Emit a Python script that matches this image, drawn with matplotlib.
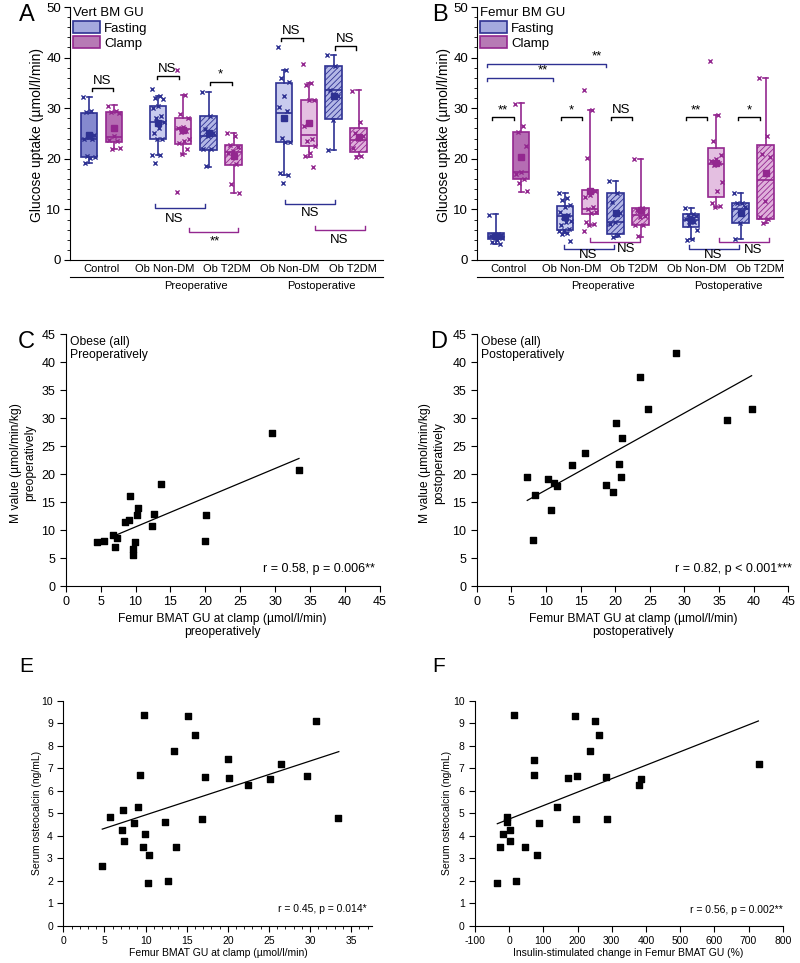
import numpy as np
import matplotlib
matplotlib.use('Agg')
import matplotlib.pyplot as plt
from matplotlib.patches import Patch
from matplotlib.ticker import MultipleLocator

plt.rcParams['font.family'] = ['Liberation Sans', 'DejaVu Sans']
plt.rcParams['hatch.linewidth'] = 0.6
plt.rcParams['axes.unicode_minus'] = False

W, H = 800, 963

# ---------------- data ----------------
groups = ['Control', 'Ob Non-DM', 'Ob T2DM', 'Ob Non-DM', 'Ob T2DM']
periods = ['Preoperative', 'Postoperative']

# box stats per group: (whislo, q1, median, q3, whishi, mean)
vert_fast_box = [(19.2, 20.3, 24.0, 29.0, 32.3, 24.7),
                 (20.8, 24.0, 27.3, 30.4, 32.5, 27.0),
                 (18.4, 21.8, 24.5, 28.4, 33.2, 25.0),
                 (16.8, 23.4, 29.1, 35.0, 37.5, 28.0),
                 (21.7, 27.8, 33.5, 38.3, 40.6, 32.4)]
vert_clamp_box = [(22.0, 23.4, 24.3, 29.3, 30.6, 26.0),
                  (21.0, 23.0, 25.9, 28.1, 32.6, 25.7),
                  (13.2, 18.8, 21.4, 22.7, 25.1, 20.5),
                  (20.4, 22.5, 24.7, 31.7, 34.9, 27.0),
                  (20.5, 21.4, 23.7, 26.0, 33.5, 24.4)]
vert_fast_pts = [[32.3, 29.5, 29.2, 24.8, 24.3, 24.0, 24.0, 20.5, 20.3, 20.2, 19.2],
                 [33.8, 32.5, 32.0, 31.8, 30.5, 30.0, 28.5, 28.0, 27.2, 26.0, 25.0, 24.0, 24.0, 20.8, 20.7, 19.1],
                 [33.2, 28.5, 25.8, 25.0, 24.5, 22.0, 22.0, 18.5],
                 [42.0, 37.5, 36.0, 35.2, 32.5, 30.3, 29.5, 24.2, 23.4, 23.4, 17.2, 16.7, 15.2],
                 [40.6, 38.4, 33.5, 32.4, 27.6, 21.7]]
vert_clamp_pts = [[30.5, 29.5, 29.2, 29.0, 24.5, 23.7, 23.5, 22.0, 22.2],
                  [37.5, 32.6, 28.8, 28.0, 26.2, 26.0, 25.5, 25.3, 24.0, 23.5, 23.2, 22.0, 21.0, 13.4],
                  [25.1, 24.6, 22.7, 22.3, 21.5, 21.2, 19.0, 15.0, 13.2],
                  [38.7, 34.9, 34.5, 31.7, 31.7, 26.5, 24.0, 23.5, 22.5, 21.2, 20.6, 18.4],
                  [33.4, 27.3, 25.0, 24.5, 24.0, 22.2, 20.6, 20.3]]

fem_fast_box = [(3.2, 4.1, 4.6, 5.4, 9.0, 4.8),
                (5.3, 6.0, 8.7, 10.7, 13.2, 8.4),
                (4.6, 5.1, 7.6, 13.2, 15.6, 9.3),
                (4.1, 6.5, 8.0, 9.1, 10.2, 7.9),
                (4.1, 7.3, 10.1, 11.2, 13.2, 9.3)]
fem_clamp_box = [(13.5, 16.0, 17.3, 25.2, 31.0, 20.4),
                 (7.0, 9.0, 10.0, 13.8, 29.7, 13.7),
                 (4.6, 6.9, 8.9, 10.2, 20.0, 9.9),
                 (10.4, 12.4, 19.0, 22.1, 28.7, 19.2),
                 (7.4, 8.2, 15.9, 22.7, 35.9, 17.1)]
fem_fast_pts = [[8.8, 5.2, 5.0, 5.0, 4.8, 4.7, 4.6, 4.5, 4.3, 4.0, 3.5, 3.2],
                [13.2, 12.2, 11.8, 10.8, 10.4, 9.5, 8.8, 8.4, 7.7, 7.5, 7.0, 6.2, 5.9, 5.7, 5.4, 5.2, 3.8],
                [15.6, 13.2, 11.5, 9.3, 7.6, 7.2, 4.9, 4.6],
                [10.2, 9.0, 8.9, 8.6, 8.5, 8.2, 7.6, 6.9, 6.0, 4.2, 4.0],
                [13.3, 11.3, 11.2, 10.4, 7.3, 4.1]]
fem_clamp_pts = [[30.8, 26.5, 25.2, 22.5, 17.4, 17.0, 16.0, 15.2, 13.6],
                 [33.5, 29.7, 20.1, 13.6, 12.8, 12.4, 10.4, 10.0, 9.5, 9.2, 7.5, 7.2, 7.0, 5.7],
                 [19.9, 10.2, 9.8, 8.6, 8.5, 6.9, 6.9, 4.7],
                 [39.4, 28.7, 23.5, 20.7, 20.0, 19.5, 19.2, 18.8, 15.5, 13.6, 11.2, 10.6, 10.4],
                 [35.9, 24.6, 21.0, 20.4, 11.6, 8.4, 8.2, 7.4]]

# scatter panels
c_x = [4.5, 5.5, 6.8, 7.0, 7.3, 8.5, 9.0, 9.2, 9.6, 9.7, 9.9, 10.2, 10.3, 12.3, 12.7, 13.6, 19.9, 20.1, 29.6, 33.4]
c_y = [7.8, 8.1, 9.1, 7.0, 8.5, 11.4, 11.8, 16.1, 6.7, 5.5, 7.8, 12.7, 14.0, 10.8, 12.9, 18.2, 8.0, 12.7, 27.4, 20.7]
c_fit_x = [7.0, 33.4]
c_fit_y = [9.0, 22.8]

d_x = [7.3, 8.1, 8.4, 10.3, 10.7, 11.2, 11.6, 13.7, 15.6, 18.7, 19.7, 20.1, 20.5, 20.8, 21.0, 23.6, 24.7, 28.8, 36.1, 39.7]
d_y = [19.4, 8.3, 16.2, 19.1, 13.6, 18.4, 17.9, 21.6, 23.8, 18.1, 16.8, 29.1, 21.8, 19.4, 26.5, 37.4, 31.6, 41.7, 29.6, 31.6]
d_fit_x = [7.3, 39.7]
d_fit_y = [15.3, 37.6]

e_x = [4.74, 5.71, 7.13, 7.21, 7.41, 8.62, 9.11, 9.31, 9.72, 9.80, 9.88, 10.32, 10.40, 12.39, 12.79,
       13.52, 13.72, 15.18, 15.99, 16.88, 17.29, 20.0, 20.2, 22.47, 25.14, 26.44, 29.64, 30.77, 33.44]
e_y = [2.66, 4.82, 4.28, 5.15, 3.76, 4.56, 5.27, 6.69, 3.49, 9.38, 4.08, 1.92, 3.14, 4.62, 2.01,
       7.78, 3.49, 9.32, 8.46, 4.76, 6.6, 7.4, 6.55, 6.26, 6.51, 7.2, 6.66, 9.08, 4.78]
e_fit_x = [4.74, 33.5]
e_fit_y = [4.30, 7.74]

f_x = [-34.7, -26.9, -18.1, -7.4, -5.4, 3.4, 2.4, 14.1, 19.9, 45.3, 71.6, 73.6, 82.3, 86.2,
       138.9, 173.0, 191.5, 194.5, 197.4, 237.4, 250.0, 263.7, 284.2, 285.1, 378.7, 384.6, 729.8]
f_y = [1.92, 3.51, 4.08, 4.82, 4.62, 4.28, 3.76, 9.38, 2.01, 3.49, 6.69, 7.38, 3.14, 4.56,
       5.27, 6.57, 9.32, 4.76, 6.66, 7.78, 9.08, 8.46, 6.6, 4.76, 6.26, 6.51, 7.2]
f_fit_x = [-34.7, 728.8]
f_fit_y = [4.54, 9.10]

# ---------------- styles ----------------
navy = '#2e3192'
purple = '#93278f'
fast_fill = ['#8589cf', '#c8cbee', '#b3b7e6', '#c8cbee', '#b3b7e6']
clamp_fill = ['#b56db3', '#e4bfe1', '#dfb0db', '#e4bfe1', '#dfb0db']
hatches = [None, None, '//////', None, '//////']

fast_pos = np.array([0.38, 1.76, 2.77, 4.28, 5.27])
clamp_pos = fast_pos + 0.5
label_pos = [0.64, 1.89, 3.14, 4.40, 5.65]
period_pos = [2.51, 5.02]

fig = plt.figure(figsize=(W / 100, H / 100), dpi=100)


def px_axes(l, t, r, b):
    return fig.add_axes([l / W, 1 - b / H, (r - l) / W, (b - t) / H])


def jitter(n, width=0.26):
    k = np.arange(n)
    return ((k * 0.618) % 1.0 - 0.5) * width


def draw_boxes(ax, box, pts, pos, edge, fills):
    stats = []
    for b in box:
        stats.append(dict(whislo=b[0], q1=b[1], med=b[2], q3=b[3], whishi=b[4], mean=b[5], fliers=[]))
    art = ax.bxp(stats, positions=pos, widths=0.33, patch_artist=True, showmeans=True,
                 showfliers=False, capwidths=0.1,
                 boxprops=dict(edgecolor=edge, linewidth=1.2),
                 medianprops=dict(color=edge, linewidth=1.2),
                 whiskerprops=dict(color=edge, linewidth=1.2),
                 capprops=dict(color=edge, linewidth=1.2),
                 meanprops=dict(marker='s', markerfacecolor=edge, markeredgecolor=edge, markersize=4.5))
    for i, patch in enumerate(art['boxes']):
        patch.set_facecolor(fills[i])
        patch.set_edgecolor(edge)
        if hatches[i]:
            patch.set_hatch(hatches[i])
    for i, p in enumerate(pts):
        ax.scatter(pos[i] + jitter(len(p)), p, marker='x', s=9, c=edge, linewidths=1.0, zorder=4)


def bracket_top(ax, x0, x1, y, label, tx=None):
    ax.plot([x0, x0, x1, x1], [y - 0.6, y, y, y - 0.6], color='black', lw=1.0)
    if tx is None:
        tx = (x0 + x1) / 2
    ax.text(tx, y + 0.2, label, ha='center', va='bottom', fontsize=9.5)


def bracket_low(ax, x0, x1, y, label, color, tx, ty):
    ax.plot([x0, x0, x1, x1], [y + 0.8, y, y, y + 0.8], color=color, lw=1.0)
    ax.text(tx, ty, label, ha='center', va='center', fontsize=9.5)


def box_panel(ax, fbox, cbox, fpts, cpts, title):
    draw_boxes(ax, fbox, fpts, fast_pos, navy, fast_fill)
    draw_boxes(ax, cbox, cpts, clamp_pos, purple, clamp_fill)
    ax.set_ylim(0, 50)
    ax.spines['top'].set_visible(False)
    ax.spines['right'].set_visible(False)
    ax.yaxis.set_major_locator(MultipleLocator(10))
    ax.yaxis.set_minor_locator(MultipleLocator(2))
    ax.tick_params(axis='y', which='major', direction='out', length=4, pad=2.5, labelsize=9.5)
    ax.tick_params(axis='y', which='minor', direction='out', length=2)
    ax.set_xticks(label_pos)
    ax.set_xticklabels(groups)
    ax.tick_params(axis='x', length=0, pad=3, labelsize=8)
    ax.plot([0, 1], [-0.067, -0.067], transform=ax.transAxes, color='black', lw=0.8, clip_on=False)
    for px, lab in zip(period_pos, periods):
        ax.text(px, -0.103, lab, transform=ax.get_xaxis_transform(), ha='center', va='center', fontsize=8)
    handles = [Patch(facecolor='#a4a9de', edgecolor=navy, lw=1.2, label='Fasting'),
               Patch(facecolor='#b77ab5', edgecolor=purple, lw=1.2, label='Clamp')]
    ax.legend(handles=handles, title=title, loc='upper left', bbox_to_anchor=(0.0, 1.01),
              frameon=False, fontsize=9.5, title_fontsize=9.5, handlelength=2.1, handleheight=1.0,
              handletextpad=0.3, labelspacing=0.15, borderpad=0.1, borderaxespad=0.1, alignment='left')


# ---------------- panel A ----------------
axA = px_axes(70, 7, 383, 260)
box_panel(axA, vert_fast_box, vert_clamp_box, vert_fast_pts, vert_clamp_pts, 'Vert BM GU')
axA.set_xlim(0, 6.26)
bracket_top(axA, 0.44, 0.86, 34.0, 'NS')
bracket_top(axA, 1.73, 2.17, 36.4, 'NS')
bracket_top(axA, 2.79, 3.23, 35.2, '*')
bracket_top(axA, 4.21, 4.65, 43.8, 'NS')
bracket_top(axA, 5.29, 5.72, 42.2, 'NS')
bracket_low(axA, 1.69, 2.69, 10.3, 'NS', navy, 2.08, 8.2)
bracket_low(axA, 2.37, 3.35, 5.6, '**', purple, 2.9, 3.6)
bracket_low(axA, 4.30, 5.29, 11.1, 'NS', navy, 4.8, 9.2)
bracket_low(axA, 4.89, 5.89, 5.9, 'NS', purple, 5.38, 4.0)

# ---------------- panel B ----------------
axB = px_axes(477, 7, 783, 260)
box_panel(axB, fem_fast_box, fem_clamp_box, fem_fast_pts, fem_clamp_pts, 'Femur BM GU')
axB.set_xlim(0, 6.12)
bracket_top(axB, 0.30, 0.74, 28.2, '**')
bracket_top(axB, 1.67, 2.09, 28.2, '*')
bracket_top(axB, 2.68, 3.10, 28.2, 'NS')
bracket_top(axB, 4.17, 4.59, 28.2, '**')
bracket_top(axB, 5.22, 5.66, 28.2, '*')
axB.plot([0.21, 0.21, 1.51, 1.51], [35.4, 36.0, 36.0, 35.4], color=navy, lw=1.0)
axB.text(1.32, 36.2, '**', ha='center', va='bottom', fontsize=9.5)
axB.plot([0.21, 0.21, 2.57, 2.57], [38.2, 38.8, 38.8, 38.2], color=navy, lw=1.0)
axB.text(2.4, 39.0, '**', ha='center', va='bottom', fontsize=9.5)
bracket_low(axB, 1.74, 2.74, 2.2, 'NS', navy, 2.22, 1.0)
bracket_low(axB, 2.26, 3.26, 3.6, 'NS', purple, 2.98, 2.1)
bracket_low(axB, 4.24, 5.24, 2.2, 'NS', navy, 4.72, 1.0)
bracket_low(axB, 4.84, 5.84, 3.6, 'NS', purple, 5.52, 2.0)

fig.text(37 / W, 1 - 135 / H, 'Glucose uptake (\u00b5mol/l/min)', rotation=90, ha='center', va='center', fontsize=10)
fig.text(444 / W, 1 - 135 / H, 'Glucose uptake (\u00b5mol/l/min)', rotation=90, ha='center', va='center', fontsize=10)


# ---------------- scatter panels ----------------
def scatter_panel(ax, x, y, fx, fy, ms, tsize):
    ax.scatter(x, y, marker='s', s=ms, c='black', zorder=3, clip_on=False)
    ax.plot(fx, fy, color='black', lw=0.9)
    ax.spines['top'].set_visible(False)
    ax.spines['right'].set_visible(False)
    ax.tick_params(which='major', direction='out', length=4, labelsize=tsize)
    ax.tick_params(which='minor', direction='out', length=2)


axC = px_axes(65.7, 334.3, 380, 586)
scatter_panel(axC, c_x, c_y, c_fit_x, c_fit_y, 20, 9)
axC.set_xlim(0, 45)
axC.set_ylim(0, 45)
axC.xaxis.set_major_locator(MultipleLocator(5))
axC.yaxis.set_major_locator(MultipleLocator(5))
axC.text(0.015, 0.995, 'Obese (all)\nPreoperatively', transform=axC.transAxes, ha='left', va='top', fontsize=8.7)
axC.text(0.985, 0.057, 'r = 0.58, p = 0.006**', transform=axC.transAxes, ha='right', va='baseline', fontsize=9)

axD = px_axes(476.7, 334.3, 788.3, 586)
scatter_panel(axD, d_x, d_y, d_fit_x, d_fit_y, 20, 9)
axD.set_xlim(0, 45)
axD.set_ylim(0, 45)
axD.xaxis.set_major_locator(MultipleLocator(5))
axD.yaxis.set_major_locator(MultipleLocator(5))
axD.text(0.015, 0.995, 'Obese (all)\nPostoperatively', transform=axD.transAxes, ha='left', va='top', fontsize=8.7)
axD.text(1.01, 0.057, 'r = 0.82, p < 0.001***', transform=axD.transAxes, ha='right', va='baseline', fontsize=9)

fig.text(23 / W, 1 - 463 / H, 'M value (\u00b5mol/min/kg)\npreoperatively', rotation=90, ha='center', va='center',
         fontsize=8.7, multialignment='center')
fig.text(432 / W, 1 - 463 / H, 'M value (\u00b5mol/min/kg)\npostoperatively', rotation=90, ha='center', va='center',
         fontsize=8.7, multialignment='center')
fig.text(222 / W, 1 - 625.5 / H, 'Femur BMAT GU at clamp (\u00b5mol/l/min)\npreoperatively', ha='center', va='center',
         fontsize=8.7, multialignment='center')
fig.text(633 / W, 1 - 625.5 / H, 'Femur BMAT GU at clamp (\u00b5mol/l/min)\npostoperatively', ha='center', va='center',
         fontsize=8.7, multialignment='center')

axE = px_axes(63.3, 700.7, 371.7, 926)
scatter_panel(axE, e_x, e_y, e_fit_x, e_fit_y, 15, 7.5)
axE.set_xlim(0, 37.5)
axE.set_ylim(0, 10)
axE.xaxis.set_major_locator(MultipleLocator(5))
axE.xaxis.set_minor_locator(MultipleLocator(1))
axE.yaxis.set_major_locator(MultipleLocator(1))
axE.text(0.984, 0.063, 'r = 0.45, p = 0.014*', transform=axE.transAxes, ha='right', va='baseline', fontsize=7.5)

axF = px_axes(475, 700.7, 782.7, 926)
scatter_panel(axF, f_x, f_y, f_fit_x, f_fit_y, 15, 7.5)
axF.set_xlim(-100, 800)
axF.set_ylim(0, 10)
axF.xaxis.set_major_locator(MultipleLocator(100))
axF.yaxis.set_major_locator(MultipleLocator(1))
axF.text(1.0, 0.058, 'r = 0.56, p = 0.002**', transform=axF.transAxes, ha='right', va='baseline', fontsize=7.5)

fig.text(37 / W, 1 - 813 / H, 'Serum osteocalcin (ng/mL)', rotation=90, ha='center', va='center', fontsize=7.5)
fig.text(447 / W, 1 - 813 / H, 'Serum osteocalcin (ng/mL)', rotation=90, ha='center', va='center', fontsize=7.5)
fig.text(218 / W, 1 - 953 / H, 'Femur BMAT GU at clamp (\u00b5mol/l/min)', ha='center', va='center', fontsize=7.5)
fig.text(628 / W, 1 - 953 / H, 'Insulin-stimulated change in Femur BMAT GU (%)', ha='center', va='center', fontsize=7.5)

# panel letters
for lab, x, y, fs in [('A', 26.7, 15, 17), ('B', 440, 15, 17), ('C', 26.7, 342, 17),
                      ('D', 439, 342, 17), ('E', 25.8, 666, 15), ('F', 438.3, 666, 15)]:
    fig.text(x / W, 1 - y / H, lab, ha='center', va='center', fontsize=fs)

fig.savefig('out.png', dpi=100)
